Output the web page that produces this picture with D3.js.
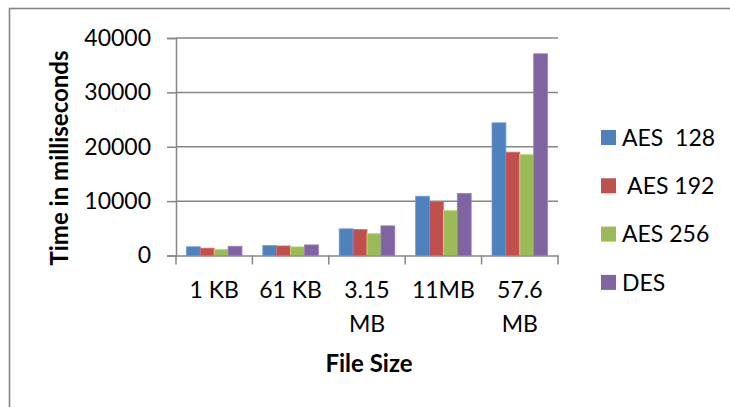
<!DOCTYPE html>
<html>
<head>
<meta charset="utf-8">
<script src="https://cdn.jsdelivr.net/npm/d3@7"></script>
<style>
  html, body { margin: 0; padding: 0; background: #fff; }
  svg { display: block; }
  text { font-family: Lato, "Open Sans", sans-serif; fill: #000; }
</style>
</head>
<body>
<svg id="chart" width="730" height="407"></svg>
<script>
const categories = ["1 KB", "61 KB", "3.15 MB", "11MB", "57.6 MB"];
const categoryLabelLines = [["1 KB"], ["61 KB"], ["3.15", "MB"], ["11MB"], ["57.6", "MB"]];
const seriesNames = ["AES  128", " AES 192", "AES 256", "DES"];
const aes128 = [1600, 1850, 4900, 10900, 24400];
const aes192 = [1350, 1750, 4800, 9900, 19000];
const aes256 = [1150, 1600, 4050, 8300, 18600];
const des = [1700, 1950, 5450, 11400, 37100];
const seriesValues = [aes128, aes192, aes256, des];
const yTicks = [0, 10000, 20000, 30000, 40000];
const colors = ["#4F81BD", "#C0504D", "#9BBB59", "#8064A2"];

const svg = d3.select("#chart");
const gray = "#868686";
const fs = 23;

// outer border
svg.append("rect")
  .attr("x", 9.5).attr("y", 8.5)
  .attr("width", 740).attr("height", 420)
  .attr("fill", "none").attr("stroke", gray).attr("stroke-width", 1.6);

const plot = { left: 176, right: 558, top: 38, bottom: 255.5 };

const x = d3.scaleBand().domain(categories).range([plot.left, plot.right]).paddingInner(0).paddingOuter(0);
const x1 = d3.scaleBand().domain(d3.range(seriesNames.length)).range([0, x.bandwidth()]).paddingInner(0).paddingOuter(0.75);
const y = d3.scaleLinear().domain([0, 40000]).range([plot.bottom, plot.top]);

// gridlines
svg.append("g").selectAll("line").data(yTicks.filter(d => d > 0)).join("line")
  .attr("x1", plot.left).attr("x2", plot.right)
  .attr("y1", d => y(d)).attr("y2", d => y(d))
  .attr("stroke", gray).attr("stroke-width", 1.5);

// bars
const groups = svg.append("g").selectAll("g").data(categories).join("g")
  .attr("transform", d => `translate(${x(d)},0)`);
groups.selectAll("rect")
  .data((c, ci) => seriesValues.map((vals, si) => ({ si, v: vals[ci] })))
  .join("rect")
  .attr("x", d => x1(d.si))
  .attr("width", x1.bandwidth())
  .attr("y", d => y(d.v))
  .attr("height", d => y(0) - y(d.v))
  .attr("fill", d => colors[d.si])
  .attr("stroke", d => d3.color(colors[d.si]).brighter(0.6))
  .attr("stroke-width", 0.8);

// y axis
const yAxis = svg.append("g")
  .attr("transform", `translate(${plot.left},0)`)
  .call(d3.axisLeft(y).tickValues(yTicks).tickSize(9).tickPadding(16).tickFormat(d3.format("d")));
yAxis.select(".domain").attr("stroke", gray).attr("stroke-width", 1.5);
yAxis.selectAll(".tick line").attr("stroke", gray).attr("stroke-width", 1.5);
yAxis.selectAll(".tick text").attr("font-size", fs).attr("font-family", "Lato, sans-serif").attr("fill", "#000");

// x axis line
const xAxis = svg.append("g").attr("transform", `translate(0,${plot.bottom})`)
  .call(d3.axisBottom(x).tickSize(0).tickFormat(""));
xAxis.select(".domain").attr("stroke", gray).attr("stroke-width", 1.5);

// x boundary ticks
const bounds = categories.map(c => x(c)).concat([x(categories[categories.length - 1]) + x.bandwidth()]);
svg.append("g").selectAll("line").data(bounds).join("line")
  .attr("x1", d => d).attr("x2", d => d)
  .attr("y1", plot.bottom).attr("y2", plot.bottom + 9)
  .attr("stroke", gray).attr("stroke-width", 1.5);

// x labels
const xl = svg.append("g").selectAll("text").data(categories).join("text")
  .attr("x", d => x(d) + x.bandwidth() / 2)
  .attr("y", 297.5)
  .attr("text-anchor", "middle")
  .attr("font-size", fs);
xl.selectAll("tspan").data((d, i) => categoryLabelLines[i]).join("tspan")
  .attr("x", function() { return this.parentNode.getAttribute("x"); })
  .attr("dy", (d, i) => i === 0 ? 0 : 34)
  .text(d => d);

// axis titles
svg.append("text")
  .attr("x", (plot.left + plot.right) / 2 + 2)
  .attr("y", 372)
  .attr("text-anchor", "middle")
  .attr("font-size", 24).attr("font-weight", "bold")
  .text("File Size");

svg.append("text")
  .attr("transform", `translate(68,158) rotate(-90)`)
  .attr("text-anchor", "middle")
  .attr("font-size", 24).attr("font-weight", "bold")
  .text("Time in milliseconds");

// legend
const legend = svg.append("g").selectAll("g").data(seriesNames).join("g")
  .attr("transform", (d, i) => `translate(601,${137.5 + i * 48.3})`);
legend.append("rect")
  .attr("x", 0).attr("y", -7.5).attr("width", 15).attr("height", 15)
  .attr("fill", (d, i) => colors[i]);
legend.append("text")
  .attr("x", 21).attr("y", 0)
  .attr("dy", "0.36em")
  .attr("font-size", fs)
  .style("white-space", "pre")
  .text(d => d);
</script>
</body>
</html>
